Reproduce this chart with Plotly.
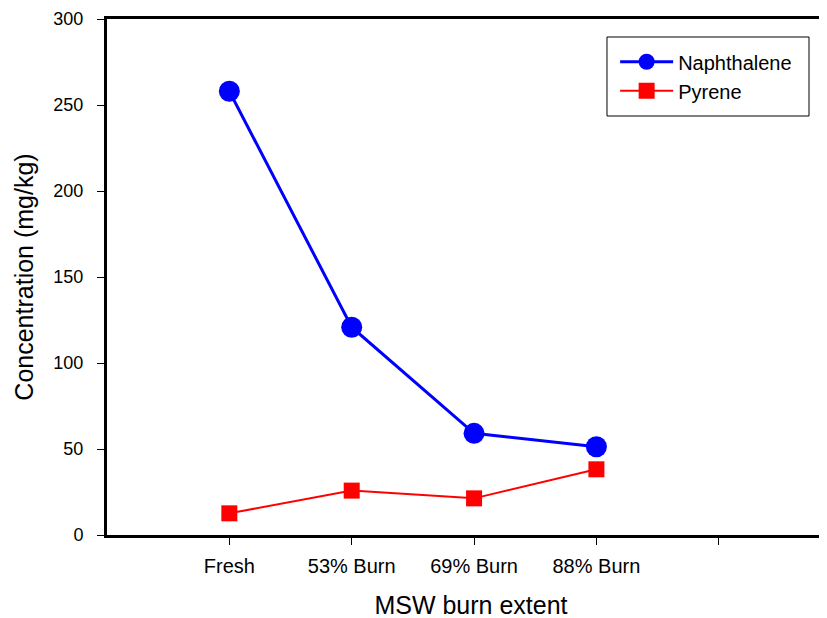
import plotly.graph_objects as go

categories = ["Fresh", "53% Burn", "69% Burn", "88% Burn"]
tick_labels = ["Fresh", "53% Burn", "69% Burn", "88% Burn", ""]
naphthalene = [258, 120.8, 59.1, 51.3]
pyrene = [12.6, 25.8, 21.3, 38.2]
x_pos = [1, 2, 3, 4]

fig = go.Figure()
fig.add_trace(go.Scatter(x=x_pos, y=naphthalene, name="Naphthalene", mode="lines+markers",
                         line=dict(color="#0000ff", width=3),
                         marker=dict(symbol="circle", size=21, color="#0000ff")))
fig.add_trace(go.Scatter(x=x_pos, y=pyrene, name="Pyrene", mode="lines+markers",
                         line=dict(color="#ff0000", width=2),
                         marker=dict(symbol="square", size=16, color="#ff0000")))

# legend frame
fig.add_shape(type="rect", xref="paper", yref="paper",
              x0=0.6868, x1=0.9643, y0=0.812, y1=0.9651,
              line=dict(color="black", width=1), fillcolor="rgba(0,0,0,0)", layer="below")

fig.update_layout(
    width=827, height=618,
    margin=dict(l=99, r=0, t=11, b=91),
    plot_bgcolor="white", paper_bgcolor="white",
    font=dict(family="Liberation Sans, Arial, sans-serif", color="black", size=18),
    legend=dict(x=0.698, y=0.955, xanchor="left", yanchor="top",
                borderwidth=0, bgcolor="rgba(0,0,0,0)",
                font=dict(size=20), tracegroupgap=0, itemwidth=53),
    xaxis=dict(range=[0, 5.95], tickvals=[1, 2, 3, 4, 5], ticktext=tick_labels,
               showline=True, linecolor="black", linewidth=3, mirror=True,
               ticks="outside", ticklen=7, tickcolor="black", tickwidth=1,
               ticklabelstandoff=4,
               showgrid=False, zeroline=False,
               title=dict(text="MSW burn extent", font=dict(size=25), standoff=21),
               tickfont=dict(size=20)),
    yaxis=dict(range=[0, 300], tickvals=[0, 50, 100, 150, 200, 250, 300],
               showline=True, linecolor="black", linewidth=3,
               ticks="outside", ticklen=7, tickcolor="black", tickwidth=1,
               ticklabelstandoff=10,
               showgrid=False, zeroline=False,
               title=dict(text="Concentration (mg/kg)", font=dict(size=25), standoff=13),
               tickfont=dict(size=18)),
)

fig.write_html("out.html")
